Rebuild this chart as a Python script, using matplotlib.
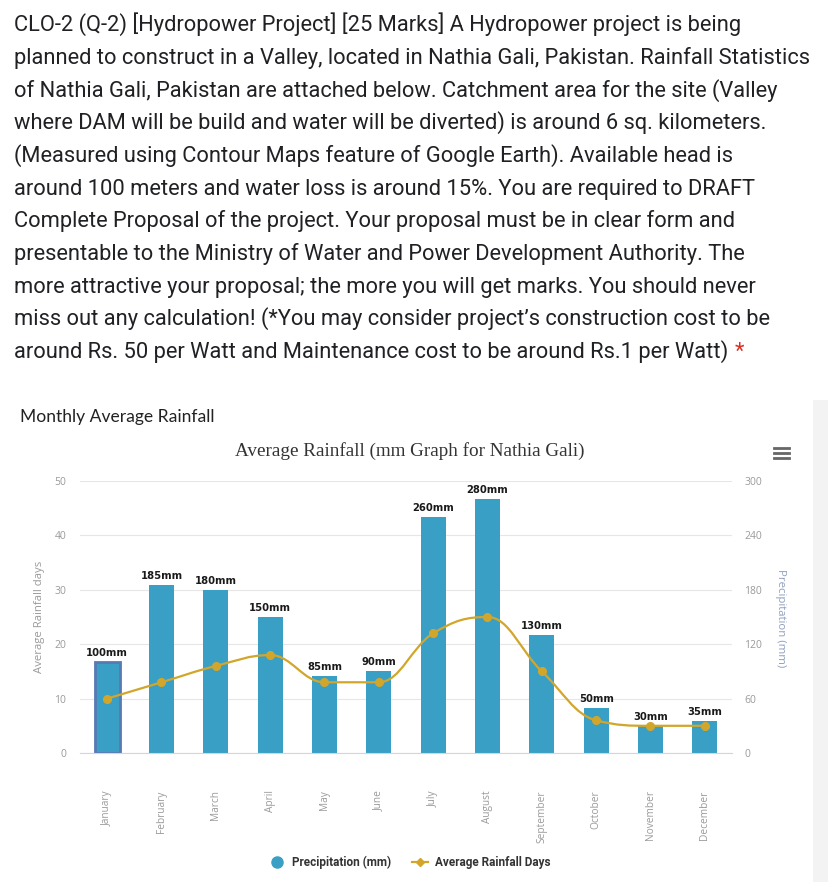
import matplotlib.pyplot as plt
from matplotlib.path import Path
from matplotlib.patches import PathPatch, Rectangle
from matplotlib.lines import Line2D

# data
months = ['January', 'February', 'March', 'April', 'May', 'June', 'July',
          'August', 'September', 'October', 'November', 'December']
precip_mm = [100, 185, 180, 150, 85, 90, 260, 280, 130, 50, 30, 35]
rain_days = [10, 13, 16, 18, 13, 13, 22, 25, 15, 6, 5, 5]

question_lines = [
    'CLO-2 (Q-2) [Hydropower Project] [25 Marks] A Hydropower project is being',
    'planned to construct in a Valley, located in Nathia Gali, Pakistan. Rainfall Statistics',
    'of Nathia Gali, Pakistan are attached below. Catchment area for the site (Valley',
    'where DAM will be build and water will be diverted) is around 6 sq. kilometers.',
    '(Measured using Contour Maps feature of Google Earth). Available head is',
    'around 100 meters and water loss is around 15%. You are required to DRAFT',
    'Complete Proposal of the project. Your proposal must be in clear form and',
    'presentable to the Ministry of Water and Power Development Authority. The',
    'more attractive your proposal; the more you will get marks. You should never',
    'miss out any calculation! (*You may consider project\u2019s construction cost to be',
    'around Rs. 50 per Watt and Maintenance cost to be around Rs.1 per Watt)',
]

BAR = '#3a9fc4'
GOLD = '#d2a62a'
W, H = 829, 882


def fx(px):
    return px / W


def fy(py):
    return 1 - py / H


fig = plt.figure(figsize=(8.29, 8.82), dpi=100)

# question text, font size chosen so the longest line spans like the original
probe = fig.text(0, 0, question_lines[1], fontsize=14, family='Roboto')
fig.canvas.draw()
qsize = 14 * 801 / probe.get_window_extent().width
probe.remove()

for i, line in enumerate(question_lines):
    t = fig.text(fx(14), fy(31 + i * 32.7), line, fontsize=qsize, family='Roboto',
                 color='#202124', va='baseline', ha='left')
fig.canvas.draw()
bb = t.get_window_extent()
fig.text(bb.x1 / W + fx(6), fy(31 + 10 * 32.7), '*', fontsize=qsize, family='Roboto',
         color='#d93025', va='baseline', ha='left')

# card edge on the right
fig.add_artist(Rectangle((fx(813), 0), fx(16), fy(400), transform=fig.transFigure,
                         color='#f3f3f3', lw=0))

fig.text(fx(20), fy(417), 'Monthly Average Rainfall', fontsize=12.6, family='Lato',
         color='#222222', va='center', ha='left')
fig.text(fx(410), fy(451), 'Average Rainfall (mm Graph for Nathia Gali)', fontsize=13.8,
         family='Liberation Serif', color='#333333', va='center', ha='center')

# hamburger icon
for yy in (448, 453, 458):
    fig.add_artist(Line2D([fx(774), fx(789)], [fy(yy), fy(yy)], transform=fig.transFigure,
                          color='#666666', lw=2))

ax = fig.add_axes([fx(80), fy(753), fx(652), 272 / H])
ax2 = ax.twinx()
ax.set_zorder(ax2.get_zorder() + 1)
ax.patch.set_visible(False)

x = list(range(len(months)))

# bars on the precipitation axis
bars = ax2.bar(x, precip_mm, width=0.46, color=BAR, zorder=2)
bars[0].set_edgecolor('#5779b4')
bars[0].set_linewidth(2)
for xi, v in zip(x, precip_mm):
    ax2.annotate(f'{v}mm', (xi, v), xytext=(0, 3), textcoords='offset points',
                 ha='center', va='bottom', fontsize=7.2, fontweight='bold',
                 color='#1a1a1a', zorder=3)

ax2.set_ylim(0, 300)
ax2.set_yticks(range(0, 301, 60))
ax2.grid(axis='y', color='#e6e6e6', lw=0.8, zorder=0)
ax2.set_axisbelow(True)

# smooth line for rainfall days (bezier spline through the points)
n = len(rain_days)
left = [(x[i], rain_days[i]) for i in range(n)]
right = [(x[i], rain_days[i]) for i in range(n)]
for i in range(1, n - 1):
    lx, ly = x[i - 1], rain_days[i - 1]
    nx, ny = x[i + 1], rain_days[i + 1]
    cx, cy = x[i], rain_days[i]
    lcx = (1.5 * cx + lx) / 2.5
    lcy = (1.5 * cy + ly) / 2.5
    rcx = (1.5 * cx + nx) / 2.5
    rcy = (1.5 * cy + ny) / 2.5
    corr = ((rcy - lcy) * (rcx - cx)) / (rcx - lcx) + cy - rcy
    lcy += corr
    rcy += corr
    if lcy > ly and lcy > cy:
        lcy = max(ly, cy)
        rcy = 2 * cy - lcy
    elif lcy < ly and lcy < cy:
        lcy = min(ly, cy)
        rcy = 2 * cy - lcy
    if rcy > ny and rcy > cy:
        rcy = max(ny, cy)
        lcy = 2 * cy - rcy
    elif rcy < ny and rcy < cy:
        rcy = min(ny, cy)
        lcy = 2 * cy - rcy
    left[i] = (lcx, lcy)
    right[i] = (rcx, rcy)

verts = [(x[0], rain_days[0])]
codes = [Path.MOVETO]
for i in range(1, n):
    verts += [right[i - 1], left[i], (x[i], rain_days[i])]
    codes += [Path.CURVE4] * 3
ax.add_patch(PathPatch(Path(verts, codes), fill=False, edgecolor=GOLD, lw=1.6, zorder=4))
ax.plot(x, rain_days, 'o', color=GOLD, ms=5.5, zorder=5)

ax.set_ylim(0, 50)
ax.set_yticks(range(0, 51, 10))
ax.set_xlim(-0.5, 11.5)
ax.set_xticks(x)
ax.set_xticklabels(months, rotation=90, fontsize=7.3, color='#9a9a9a', family='Open Sans')

for a in (ax, ax2):
    for s in a.spines.values():
        s.set_visible(False)
ax2.spines['bottom'].set_visible(True)
ax2.spines['bottom'].set_color('#ccd6eb')

ax.tick_params(axis='x', length=0, pad=27)
ax.tick_params(axis='y', length=0, pad=10, labelsize=7.5, labelcolor='#9a9a9a')
ax2.tick_params(axis='y', length=0, pad=9, labelsize=7.5, labelcolor='#9a9a9a')
ax2.tick_params(axis='x', length=0, labelbottom=False)
for lab in ax.get_yticklabels() + ax2.get_yticklabels():
    lab.set_family('Open Sans')

fig.text(fx(40), fy(617), 'Average Rainfall days', rotation=90, fontsize=8.2,
         family='Open Sans', color='#9a9a9a', ha='center', va='center')
fig.text(fx(781), fy(618), 'Precipitation (mm)', rotation=270, fontsize=8.2,
         family='Open Sans', color='#8ea0bf', ha='center', va='center')

handles = [
    Line2D([], [], marker='o', color=BAR, lw=0, ms=8),
    Line2D([], [], marker='D', color=GOLD, lw=1.6, ms=4.5),
]
fig.legend(handles, ['Precipitation (mm)', 'Average Rainfall Days'], loc='center',
           bbox_to_anchor=(fx(410), fy(862)), ncol=2, frameon=False,
           prop={'family': 'Roboto', 'weight': 'bold', 'size': 8.5},
           handlelength=1.3, handletextpad=0.6, columnspacing=1.8, labelcolor='#333333')

plt.savefig('out.png', dpi=100)
